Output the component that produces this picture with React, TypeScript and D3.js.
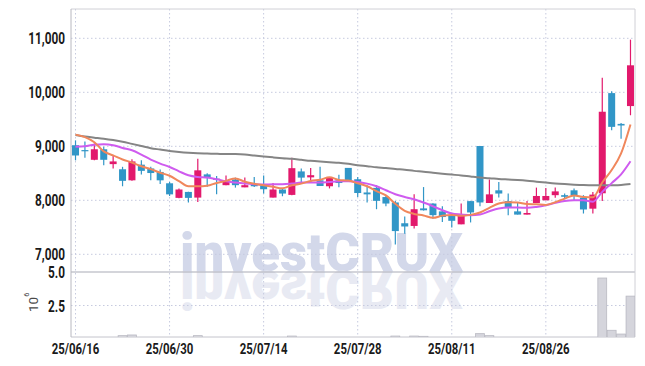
import React from "react";
import * as d3 from "d3";

// trading days (yy/mm/dd)
const dates = [
  "25/06/16", "25/06/17", "25/06/18", "25/06/19", "25/06/20",
  "25/06/23", "25/06/24", "25/06/25", "25/06/26", "25/06/27",
  "25/06/30", "25/07/01", "25/07/02", "25/07/03", "25/07/04",
  "25/07/07", "25/07/08", "25/07/09", "25/07/10", "25/07/11",
  "25/07/14", "25/07/15", "25/07/16", "25/07/17", "25/07/18",
  "25/07/21", "25/07/22", "25/07/23", "25/07/24", "25/07/25",
  "25/07/28", "25/07/29", "25/07/30", "25/07/31", "25/08/01",
  "25/08/04", "25/08/05", "25/08/06", "25/08/07", "25/08/08",
  "25/08/11", "25/08/12", "25/08/13", "25/08/14", "25/08/18",
  "25/08/19", "25/08/20", "25/08/21", "25/08/22", "25/08/25",
  "25/08/26", "25/08/27", "25/08/28", "25/08/29", "25/09/01",
  "25/09/02", "25/09/03", "25/09/04", "25/09/05", "25/09/08",
];

const tickDates = ["25/06/16", "25/06/30", "25/07/14", "25/07/28", "25/08/11", "25/08/26"];

const opens = [
  9020, 8930, 8750, 8945, 8670, 8575, 8370, 8660, 8590, 8525,
  8315, 8045, 8155, 8050, 8480, 8400, 8280, 8385, 8240, 8285,
  8280, 8050, 8200, 8100, 8535, 8425, 8370, 8260, 8370, 8600,
  8390, 8145, 8230, 8060, 7960, 7575, 7525, 7850, 7940, 7795,
  7710, 7555, 7985, 9005, 7950, 8185, 7985, 7795, 7735, 7950,
  8000, 8095, 8095, 8185, 8050, 7845, 8130, 9985, 9415, 9745,
];
const highs = [
  9110, 9090, 9050, 8990, 8830, 8620, 8760, 8740, 8620, 8570,
  8340, 8220, 8160, 8770, 8500, 8450, 8460, 8420, 8420, 8430,
  8460, 8320, 8210, 8790, 8590, 8600, 8620, 8425, 8475, 8600,
  8430, 8280, 8280, 8095, 7985, 7700, 8110, 8245, 7945, 7890,
  7770, 7940, 7990, 9005, 8385, 8340, 8125, 7970, 7985, 8235,
  8230, 8235, 8125, 8220, 8095, 8155, 10270, 10020, 9430, 10975,
];
const lows = [
  8740, 8790, 8740, 8650, 8590, 8260, 8360, 8480, 8370, 8300,
  8080, 8040, 7960, 7970, 8250, 8110, 8280, 8235, 8240, 8245,
  8125, 8050, 8075, 8095, 8340, 8330, 8265, 8220, 8240, 8355,
  8060, 7960, 7835, 7890, 7180, 7380, 7480, 7810, 7660, 7600,
  7495, 7555, 7590, 7890, 7950, 8050, 7725, 7735, 7735, 7950,
  8000, 8045, 8020, 7985, 7755, 7755, 7985, 9295, 9140, 9575,
];
const closes = [
  8830, 8910, 8945, 8750, 8720, 8360, 8720, 8545, 8505, 8370,
  8110, 8200, 8045, 8555, 8415, 8385, 8360, 8280, 8280, 8260,
  8205, 8200, 8125, 8595, 8420, 8465, 8265, 8420, 8320, 8360,
  8135, 8110, 7990, 7940, 7430, 7515, 7835, 7815, 7725, 7690,
  7620, 7710, 7775, 7960, 8110, 8125, 7860, 7735, 7765, 8080,
  8080, 8165, 8065, 8095, 7830, 8105, 9640, 9360, 9385, 10500,
];

// volume, millions of shares
const volumes = [
  0.05, 0.04, 0.05, 0.05, 0.1, 0.25, 0.3, 0.1, 0.06, 0.05,
  0.08, 0.06, 0.1, 0.25, 0.06, 0.05, 0.04, 0.05, 0.04, 0.05,
  0.06, 0.05, 0.04, 0.22, 0.08, 0.05, 0.06, 0.05, 0.04, 0.06,
  0.08, 0.06, 0.08, 0.06, 0.22, 0.1, 0.22, 0.2, 0.08, 0.06,
  0.05, 0.08, 0.07, 0.4, 0.25, 0.1, 0.07, 0.05, 0.06, 0.08,
  0.07, 0.06, 0.05, 0.06, 0.08, 0.12, 4.55, 0.65, 0.37, 3.2,
];

// moving averages
const ma5 = [
  9216, 9170, 9075, 8905, 8831, 8755, 8699, 8630, 8578, 8510,
  8455, 8355, 8260, 8258, 8268, 8322, 8360, 8405, 8345, 8305,
  8278, 8250, 8222, 8277, 8309, 8358, 8380, 8428, 8378, 8366,
  8315, 8260, 8170, 8090, 7935, 7805, 7748, 7718, 7675, 7716,
  7730, 7712, 7730, 7775, 7860, 7940, 7966, 7958, 7930, 7925,
  7915, 7965, 8031, 8090, 8060, 8055, 8330, 8560, 8868, 9405,
];
const ma10 = [
  8990, 9000, 9030, 9037, 9020, 8970, 8926, 8846, 8754, 8680,
  8617, 8537, 8463, 8432, 8421, 8390, 8352, 8328, 8309, 8297,
  8291, 8297, 8297, 8309, 8328, 8328, 8328, 8340, 8352, 8352,
  8340, 8309, 8260, 8186, 8112, 8062, 8020, 7959, 7890, 7816,
  7755, 7736, 7723, 7736, 7797, 7847, 7866, 7866, 7860, 7877,
  7908, 7952, 7988, 8001, 8000, 7975, 8156, 8318, 8480, 8722,
];
const ma60 = [
  9210, 9180, 9160, 9140, 9115, 9085, 9045, 9005, 8965, 8940,
  8915, 8895, 8880, 8870, 8865, 8860, 8858, 8856, 8848, 8830,
  8812, 8795, 8780, 8768, 8750, 8732, 8718, 8706, 8695, 8675,
  8650, 8632, 8612, 8598, 8580, 8565, 8545, 8530, 8510, 8492,
  8476, 8460, 8440, 8421, 8410, 8395, 8385, 8375, 8362, 8345,
  8328, 8312, 8300, 8290, 8282, 8278, 8278, 8280, 8285, 8300,
];

const priceTicks = [7000, 8000, 9000, 10000, 11000];
const volumeTicks = [2.5, 5.0];

const UP = "#e2196c";
const DOWN = "#3196c7";

export default function App() {
  const width = 645;
  const height = 366;
  const left = 71;
  const right = 635;
  const top = 9;
  const bottom = 337;
  const split = 272;

  const x = d3.scalePoint<string>().domain(dates).range([left, right]).padding(0.48);
  const y = d3.scaleLinear().domain([7000, 11000]).range([254.3, 38.3]);
  const yv = d3.scaleLinear().domain([0, 5]).range([339, 272]);
  const step = x.step();

  const maLine = (vals: number[]) =>
    d3
      .line<number>()
      .x((_, i) => x(dates[i]) as number)
      .y((d) => y(d))
      .curve(d3.curveMonotoneX)(vals) as string;

  const fmt = d3.format(",");
  const labelFont = "Roboto, 'DejaVu Sans', sans-serif";

  return (
    <svg
      width={width}
      height={height}
      style={{ position: "absolute", left: 0, top: 0, background: "#fff" }}
    >
      <defs>
        <clipPath id="plotClip">
          <rect x={left} y={top} width={right - left} height={bottom - top} />
        </clipPath>
      </defs>

      {/* watermark + reflection */}
      <g fontFamily={labelFont} fontWeight={900} fontSize={53}>
        <text x={180} y={271} fill="#d3d8ea" textLength={283} lengthAdjust="spacingAndGlyphs">
          investCRUX
        </text>
        <g transform="translate(0,542) scale(1,-1)">
          <text x={180} y={271} fill="#e8eaf3" textLength={283} lengthAdjust="spacingAndGlyphs">
            investCRUX
          </text>
        </g>
      </g>

      {/* grid */}
      <g stroke="#c6cadf" strokeWidth={1} strokeDasharray="1.5,2.5">
        {tickDates.map((d) => (
          <line key={d} x1={x(d)} x2={x(d)} y1={top} y2={bottom} />
        ))}
        {priceTicks.map((p) => (
          <line key={p} x1={left} x2={right} y1={y(p)} y2={y(p)} />
        ))}
        <line x1={left} x2={right} y1={yv(2.5)} y2={yv(2.5)} />
      </g>
      <line x1={left} x2={right} y1={split} y2={split} stroke="#a9abb6" strokeWidth={1} />

      {/* frame */}
      <g fill="none" strokeWidth={1}>
        <line x1={left} x2={right} y1={top} y2={top} stroke="#d0d0d6" />
        <line x1={right} x2={right} y1={top} y2={bottom} stroke="#d0d0d6" />
        <line x1={left} x2={right} y1={bottom} y2={bottom} stroke="#c4c4cc" />
        <line x1={left} x2={left} y1={top} y2={bottom} stroke="#b8b8c0" />
      </g>

      {/* volume */}
      <g clipPath="url(#plotClip)">
        {volumes.map((v, i) => {
          const cx = x(dates[i]) as number;
          return (
            <rect
              key={i}
              x={cx - step * 0.47}
              y={yv(v)}
              width={step * 0.94}
              height={yv(0) - yv(v)}
              fill="#d5d5dc"
              stroke="#b9b9c2"
              strokeWidth={0.8}
            />
          );
        })}
      </g>

      {/* candles */}
      <g clipPath="url(#plotClip)">
        {dates.map((d, i) => {
          const cx = x(d) as number;
          const o = opens[i];
          const c = closes[i];
          const col = c >= o ? UP : DOWN;
          const yTop = y(Math.max(o, c));
          const yBot = y(Math.min(o, c));
          return (
            <g key={d}>
              <line x1={cx} x2={cx} y1={y(highs[i])} y2={y(lows[i])} stroke={col} strokeWidth={1.2} />
              <rect x={cx - 3.5} y={yTop} width={7} height={Math.max(1.2, yBot - yTop)} fill={col} />
            </g>
          );
        })}
      </g>

      {/* moving averages */}
      <g fill="none" strokeWidth={2} strokeLinejoin="round" clipPath="url(#plotClip)">
        <path d={maLine(ma60)} stroke="#858585" />
        <path d={maLine(ma10)} stroke="#cf5bef" />
        <path d={maLine(ma5)} stroke="#f0875c" />
      </g>

      {/* y axis labels */}
      <g fontFamily={labelFont} fontWeight={700} fontSize={16} fill="#1a1a1a" textAnchor="end">
        {priceTicks.map((p) => (
          <text key={p} transform={`translate(65,${y(p) + 6}) scale(0.74,1)`}>
            {fmt(p)}
          </text>
        ))}
        {volumeTicks.map((v) => (
          <text key={v} transform={`translate(65,${yv(v) + 6}) scale(0.74,1)`}>
            {v.toFixed(1)}
          </text>
        ))}
      </g>

      {/* 10^6 unit */}
      <text
        transform="translate(38,312) rotate(-90)"
        fontFamily={labelFont}
        fontSize={13.5}
        fill="#4a4a4a"
      >
        10
        <tspan dy={-9} fontSize={7.5}>
          6
        </tspan>
      </text>

      {/* x axis labels */}
      <g fontFamily={labelFont} fontWeight={700} fontSize={15} fill="#1a1a1a" textAnchor="middle">
        {tickDates.map((d) => (
          <text key={d} transform={`translate(${x(d)},354) scale(0.76,1)`}>
            {d}
          </text>
        ))}
      </g>
    </svg>
  );
}
